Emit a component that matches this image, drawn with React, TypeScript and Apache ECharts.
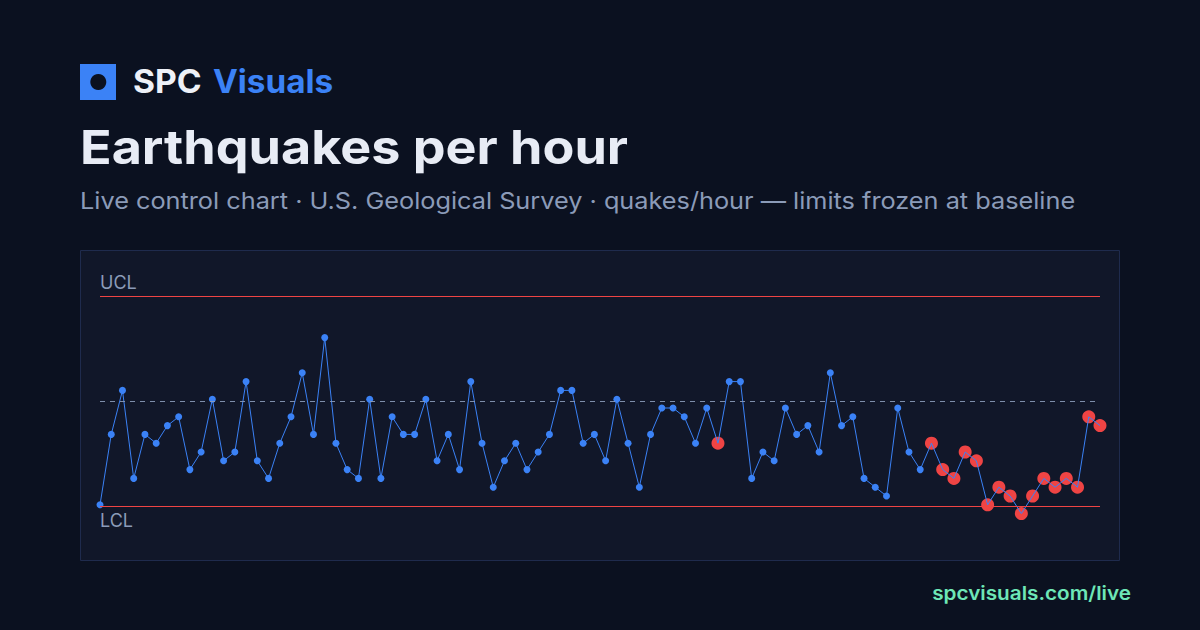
import React, { useEffect, useRef } from "react";
import * as echarts from "echarts";

const values: number[] = [
  4, 12, 17, 7, 12, 11, 13, 14, 8, 10, 16, 9, 10, 18, 9, 7, 11, 14, 19, 12, 23, 11, 8,
  7, 16, 7, 14, 12, 12, 16, 9, 12, 8, 18, 11, 6, 9, 11, 8, 10, 12, 17, 17, 11, 12,
  9, 16, 11, 6, 12, 15, 15, 14, 11, 15, 11, 18, 18, 7, 10, 9, 15, 12, 13, 10, 19, 13,
  14, 7, 6, 5, 15, 10, 8, 11, 8, 7, 10, 9, 4, 6, 5, 3, 5, 7, 6, 7, 6, 14, 13,
];
const categories: string[] = values.map((_, i) => `H${i + 1}`);
const centerLine = 15.8;
const ucl = 27.7;
const lcl = 3.87;
const runLength = 9;

function flagRuns(v: number[], c: number, n: number): boolean[] {
  const out = v.map(() => false);
  let side = 0;
  let count = 0;
  v.forEach((x, i) => {
    const s = x > c ? 1 : x < c ? -1 : 0;
    if (s !== 0 && s === side) count += 1;
    else {
      side = s;
      count = s === 0 ? 0 : 1;
    }
    if (count >= n) out[i] = true;
  });
  return out;
}

const BG = "#0b1120";
const PANEL = "#111729";
const BLUE = "#3b82f6";
const RED = "#ef4444";
const MUTED = "#8b9bb8";

export default function App() {
  const ref = useRef<HTMLDivElement>(null);
  useEffect(() => {
    document.body.style.margin = "0";
    document.body.style.background = BG;
    const chart = echarts.init(ref.current!, undefined, { renderer: "svg" });
    const flags = flagRuns(values, centerLine, runLength);
    const lineData = values.map((v, i) => ({
      value: v,
      symbolSize: flags[i] ? 0 : 7,
    }));
    const redData = values.map((v, i) => (flags[i] ? v : "-"));
    chart.setOption({
      animation: false,
      backgroundColor: BG,
      grid: { left: 100, right: 100, top: 276, bottom: 90 },
      xAxis: {
        type: "category",
        data: categories,
        boundaryGap: false,
        show: false,
      },
      yAxis: { type: "value", min: 0, max: 30, show: false },
      graphic: [
        {
          type: "rect",
          shape: { x: 80.5, y: 250.5, width: 1039, height: 310 },
          style: { fill: PANEL, stroke: "#1f2b4d", lineWidth: 1 },
          z: -10,
        },
        {
          type: "rect",
          shape: { x: 80, y: 64, width: 36, height: 36 },
          style: { fill: BLUE },
        },
        {
          type: "circle",
          shape: { cx: 98.3, cy: 82, r: 8 },
          style: { fill: BG },
        },
        {
          type: "text",
          x: 133,
          y: 81,
          scaleX: 1.05,
          style: {
            text: "SPC",
            fill: "#eef1f8",
            fontFamily: "Inter",
            fontWeight: 700,
            fontSize: 32,
            textVerticalAlign: "middle",
          },
        },
        {
          type: "text",
          x: 213,
          y: 81,
          scaleX: 1.04,
          style: {
            text: "Visuals",
            fill: BLUE,
            fontFamily: "Inter",
            fontWeight: 700,
            fontSize: 32,
            textVerticalAlign: "middle",
          },
        },
        {
          type: "text",
          x: 80,
          y: 147,
          scaleX: 1.108,
          style: {
            text: "Earthquakes per hour",
            fill: "#e8ecf5",
            fontFamily: "Inter",
            fontWeight: 700,
            fontSize: 47,
            textVerticalAlign: "middle",
          },
        },
        {
          type: "text",
          x: 80,
          y: 201,
          scaleX: 1.1,
          style: {
            text: "Live control chart · U.S. Geological Survey · quakes/hour — limits frozen at baseline",
            fill: MUTED,
            fontFamily: "Inter",
            fontWeight: 400,
            fontSize: 23,
            textVerticalAlign: "middle",
          },
        },
        {
          type: "text",
          x: 100,
          y: 282,
          style: {
            text: "UCL",
            fill: MUTED,
            fontFamily: "Inter",
            fontSize: 18,
            textVerticalAlign: "middle",
          },
        },
        {
          type: "text",
          x: 100,
          y: 520,
          style: {
            text: "LCL",
            fill: MUTED,
            fontFamily: "Inter",
            fontSize: 18,
            textVerticalAlign: "middle",
          },
        },
        {
          type: "text",
          x: 1131,
          y: 593,
          scaleX: 1.09,
          style: {
            text: "spcvisuals.com/live",
            fill: "#6ee7b7",
            fontFamily: "Inter",
            fontWeight: 600,
            fontSize: 19,
            textAlign: "right",
            textVerticalAlign: "middle",
          },
        },
      ],
      series: [
        {
          type: "scatter",
          data: redData,
          symbol: "circle",
          symbolSize: 13,
          itemStyle: { color: RED, opacity: 1 },
          z: 1,
          silent: true,
        },
        {
          type: "line",
          data: lineData,
          symbol: "circle",
          showAllSymbol: true,
          lineStyle: { color: BLUE, width: 1 },
          itemStyle: { color: BLUE },
          z: 2,
          markLine: {
            silent: true,
            symbol: "none",
            label: { show: false },
            data: [
              { yAxis: ucl, lineStyle: { color: RED, width: 1, type: "solid" } },
              { yAxis: lcl, lineStyle: { color: RED, width: 1, type: "solid" } },
              {
                yAxis: centerLine,
                lineStyle: { color: "#8b9bb8", width: 1, type: [5, 5], opacity: 0.9 },
              },
            ],
          },
        },
      ],
    });
    return () => chart.dispose();
  }, []);
  return (
    <div
      ref={ref}
      style={{ position: "absolute", left: 0, top: 0, width: 1200, height: 630 }}
    />
  );
}
